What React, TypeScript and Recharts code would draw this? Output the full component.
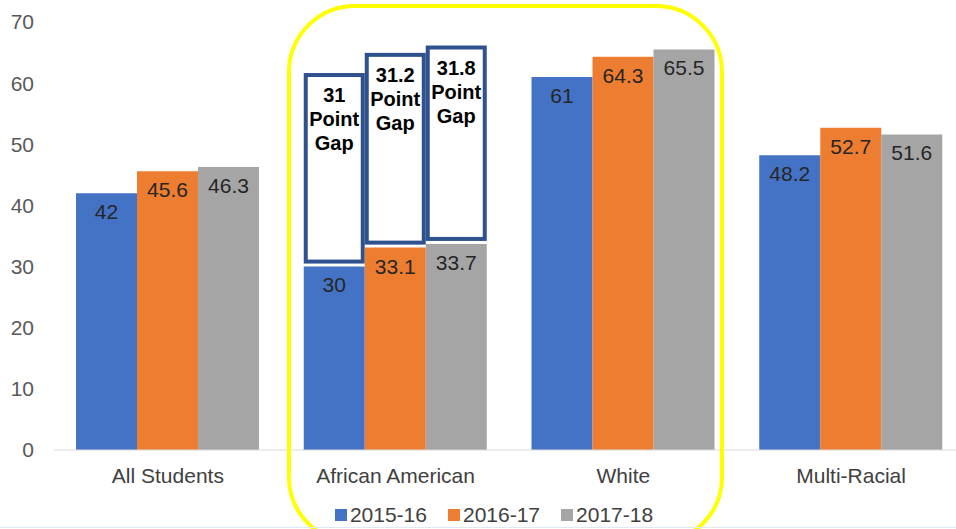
import { BarChart, Bar, XAxis, YAxis, Legend, LabelList } from "recharts";

const categories = ["All Students", "African American", "White", "Multi-Racial"];
const y2015 = [42, 30, 61, 48.2];
const y2016 = [45.6, 33.1, 64.3, 52.7];
const y2017 = [46.3, 33.7, 65.5, 51.6];
// point gaps to the White bar, only shown for African American
const gap2015 = [0, 31, 0, 0];
const gap2016 = [0, 31.2, 0, 0];
const gap2017 = [0, 31.8, 0, 0];
const yTicks = [0, 10, 20, 30, 40, 50, 60, 70];

const seriesNames = ["2015-16", "2016-17", "2017-18"];
const colors = ["#4472C4", "#ED7D31", "#A5A5A5"];

const data = categories.map((name, i) => ({
  name,
  a: y2015[i],
  b: y2016[i],
  c: y2017[i],
  ga: gap2015[i],
  gb: gap2016[i],
  gc: gap2017[i],
}));

const FONT = "'Liberation Sans', Arial, sans-serif";

function GapBox(props: any) {
  const { x, y, width, height } = props;
  if (!height) return null;
  return (
    <rect
      x={x + 2}
      y={y - 2}
      width={width - 4}
      height={height - 3}
      fill="#ffffff"
      stroke="#2F528F"
      strokeWidth={4}
    />
  );
}

function GapLabel(props: any) {
  const { x, y, width, value } = props;
  if (!value) return null;
  const cx = x + width / 2;
  const lines = [String(value), "Point", "Gap"];
  return (
    <text
      x={cx}
      textAnchor="middle"
      fontFamily={FONT}
      fontSize={20}
      fontWeight="bold"
      fill="#000"
    >
      {lines.map((t, i) => (
        <tspan key={i} x={cx} y={y + 25 + i * 24}>
          {t}
        </tspan>
      ))}
    </text>
  );
}

function LegendContent() {
  return (
    <div
      style={{
        display: "flex",
        justifyContent: "center",
        paddingLeft: 23,
        fontFamily: FONT,
        fontSize: 21,
        lineHeight: "24px",
        color: "#404040",
      }}
    >
      {seriesNames.map((n, i) => (
        <div key={n} style={{ display: "flex", alignItems: "center", marginLeft: i ? 21 : 0 }}>
          <span style={{ width: 12, height: 12, background: colors[i], marginRight: 3 }} />
          <span>{n}</span>
        </div>
      ))}
    </div>
  );
}

export default function App() {
  const labelStyle = { fontFamily: FONT, fontSize: 21, fill: "#262626" };
  return (
    <div
      style={{
        position: "absolute",
        left: 0,
        top: 0,
        width: 956,
        height: 529,
        overflow: "hidden",
        background: "#fff",
      }}
    >
      <BarChart
        width={970}
        height={529}
        data={data}
        margin={{ top: 22, right: 5, bottom: 2, left: 0 }}
        barCategoryGap="20%"
        barGap={0}
        barSize={61}
      >
        <XAxis
          dataKey="name"
          axisLine={{ stroke: "#D9D9D9", strokeWidth: 1 }}
          tickLine={false}
          tickSize={0}
          tickMargin={18}
          height={53}
          tick={{ fontFamily: FONT, fontSize: 21, fill: "#404040" }}
        />
        <YAxis
          domain={[0, 70]}
          ticks={yTicks}
          width={54}
          axisLine={false}
          tickLine={false}
          tickSize={0}
          tickMargin={20}
          tick={{ fontFamily: FONT, fontSize: 21, fill: "#595959" }}
        />
        <Legend verticalAlign="bottom" height={24} content={<LegendContent />} />
        <Bar dataKey="a" stackId="a" fill={colors[0]} isAnimationActive={false}>
          <LabelList dataKey="a" position="insideTop" offset={11} style={labelStyle} />
        </Bar>
        <Bar dataKey="ga" stackId="a" shape={<GapBox />} isAnimationActive={false}>
          <LabelList dataKey="ga" content={<GapLabel />} />
        </Bar>
        <Bar dataKey="b" stackId="b" fill={colors[1]} isAnimationActive={false}>
          <LabelList dataKey="b" position="insideTop" offset={11} style={labelStyle} />
        </Bar>
        <Bar dataKey="gb" stackId="b" shape={<GapBox />} isAnimationActive={false}>
          <LabelList dataKey="gb" content={<GapLabel />} />
        </Bar>
        <Bar dataKey="c" stackId="c" fill={colors[2]} isAnimationActive={false}>
          <LabelList dataKey="c" position="insideTop" offset={11} style={labelStyle} />
        </Bar>
        <Bar dataKey="gc" stackId="c" shape={<GapBox />} isAnimationActive={false}>
          <LabelList dataKey="gc" content={<GapLabel />} />
        </Bar>
      </BarChart>
      {/* yellow highlight around African American and White */}
      <div
        style={{
          position: "absolute",
          left: 287,
          top: 4,
          width: 437,
          height: 541,
          border: "4px solid #FFFF00",
          borderRadius: 68,
          boxSizing: "border-box",
          pointerEvents: "none",
        }}
      />
      <div
        style={{
          position: "absolute",
          left: 0,
          bottom: 1,
          width: 956,
          height: 1,
          background: "#DDEBF7",
        }}
      />
    </div>
  );
}
